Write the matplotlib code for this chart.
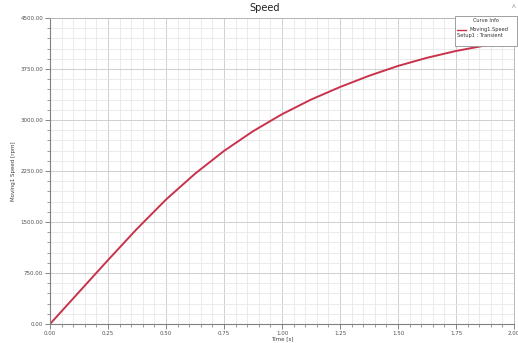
import numpy as np
import matplotlib
matplotlib.use('Agg')
from matplotlib import pyplot as plt
from matplotlib.ticker import MultipleLocator, FormatStrFormatter
from matplotlib.patches import Rectangle
from matplotlib.lines import Line2D

# speed curve
time_s = [0.0, 0.125, 0.25, 0.375, 0.5, 0.625, 0.75, 0.875, 1.0, 1.125,
          1.25, 1.375, 1.5, 1.625, 1.75, 1.875, 2.0]
speed_rpm = [0, 470, 940, 1400, 1830, 2210, 2545, 2835, 3085, 3300,
             3485, 3650, 3795, 3915, 4015, 4095, 4160]

x_ticks = [0.0, 0.25, 0.5, 0.75, 1.0, 1.25, 1.5, 1.75, 2.0]
y_ticks = [0, 750, 1500, 2250, 3000, 3750, 4500]

W, H = 518, 343
fig = plt.figure(figsize=(W / 100, H / 100), dpi=100)
ax = fig.add_axes([50 / W, 1 - 324 / H, 464 / W, 306 / H])

ax.plot(time_s, speed_rpm, color='#c8334b', lw=1.4, solid_joinstyle='round')

ax.set_xlim(0, 2.0)
ax.set_ylim(0, 4500)
ax.set_xticks(x_ticks)
ax.set_yticks(y_ticks)
ax.xaxis.set_minor_locator(MultipleLocator(0.05))
ax.yaxis.set_minor_locator(MultipleLocator(150))
ax.xaxis.set_major_formatter(FormatStrFormatter('%.2f'))
ax.yaxis.set_major_formatter(FormatStrFormatter('%.2f'))
ax.grid(True, which='major', color='#d0d0d0', lw=0.7)
ax.grid(True, which='minor', color='#e8e8e8', lw=0.6)
ax.set_axisbelow(True)

ax.tick_params(which='major', direction='out', length=3.5, width=0.6,
               color='#707070', labelsize=4, labelcolor='#505050', pad=1.5)
ax.tick_params(which='minor', direction='out', length=2, width=0.5, color='#707070')
for s in ['left', 'bottom']:
    ax.spines[s].set_color('#808080')
    ax.spines[s].set_linewidth(0.8)
for s in ['top', 'right']:
    ax.spines[s].set_color('#b0b0b0')
    ax.spines[s].set_linewidth(0.6)

ax.set_xlabel('Time [s]', fontsize=4, color='#404040', labelpad=0.5)
ax.set_ylabel('Moving1 Speed [rpm]', fontsize=4, color='#404040', labelpad=3)

fig.text(265 / W, 1 - 8 / H, 'Speed', ha='center', va='center', fontsize=7, color='#202020')
fig.text(514 / W, 1 - 6 / H, 'A', ha='center', va='center', fontsize=4, color='#909090')

# Curve Info box
fig.add_artist(Rectangle((455 / W, 1 - 46 / H), 62 / W, 30 / H, transform=fig.transFigure,
                         facecolor='white', edgecolor='#909090', lw=0.6, zorder=5))
fig.text(486 / W, 1 - 20.5 / H, 'Curve Info', ha='center', va='center', fontsize=3.6,
         color='#303030', zorder=6)
fig.add_artist(Line2D([457 / W, 466 / W], [1 - 29.5 / H, 1 - 29.5 / H], transform=fig.transFigure,
                      color='#c8334b', lw=1.0, zorder=6))
fig.text(469 / W, 1 - 29.5 / H, 'Moving1.Speed', ha='left', va='center', fontsize=3.6,
         color='#303030', zorder=6)
fig.text(457 / W, 1 - 35 / H, 'Setup1 : Transient', ha='left', va='center', fontsize=3.6,
         color='#303030', zorder=6)

fig.savefig('out.png', dpi=100)
